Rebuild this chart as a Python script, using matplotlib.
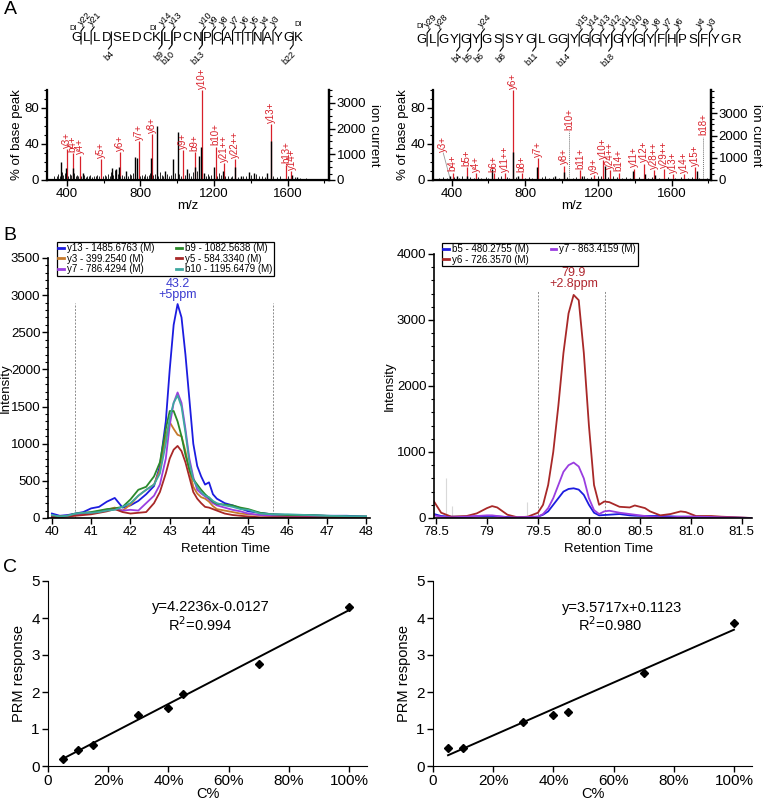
import matplotlib
matplotlib.use("Agg")
import matplotlib.pyplot as plt
from matplotlib.lines import Line2D
from matplotlib.ticker import MultipleLocator, FuncFormatter

plt.rcParams["font.family"] = ["Liberation Sans", "DejaVu Sans"]

W, H = 783, 802
RED = "#d8202a"

# ---------------- panel A data ----------------
seq_left = "GLLDSEDCKLPCNPCATTNAYGK"
y_ions_left = [22, 21, 14, 13, 10, 9, 8, 7, 6, 5, 4, 3]
b_ions_left = [4, 9, 10, 13, 22]
seq_right = "GLGYGYGSSYGLGGYGGYGYGYFHPSFYGR"
y_ions_right = [29, 28, 24, 15, 14, 13, 12, 11, 10, 9, 8, 7, 6, 4, 3]
b_ions_right = [4, 5, 6, 8, 11, 14, 18]

red_mz_l = [400, 431, 469, 587, 691, 792, 863, 1032, 1096, 1132, 1210, 1254, 1314, 1508, 1593, 1621]
red_h_l = [34, 30, 27, 23, 31, 43, 51, 33, 31, 100, 37, 18.5, 23, 62, 17, 10]
red_lab_l = ["y3+", "b4+", "y4+", "y5+", "y6+", "y7+", "y8+", "y9+", "b9+", "y10+",
             "b10+", "y21++", "y22++", "y13+", "b13+", "y14+"]

black_mz_l = [367, 396, 431, 487, 645, 669, 683, 723, 772, 781, 860, 889, 934, 978,
              1003, 1054, 1099, 1121, 1130, 1145, 1199, 1250, 1314, 1345, 1390, 1417,
              1490, 1508, 1626, 1653]
black_h_l = [20, 13, 13, 8, 13, 12, 15, 10, 26, 24, 25, 60, 10, 23,
             53, 12, 14, 27, 37, 8, 14, 10, 14, 4, 9, 8,
             8, 43, 6, 3]

noise_mz_l = [330, 345, 352, 360, 372, 380, 388, 405, 415, 422, 440, 448, 455, 462,
              478, 495, 503, 512, 520, 528, 537, 545, 556, 565, 573, 598, 607, 615,
              624, 632, 640, 652, 660, 676, 690, 700, 710, 730, 742, 750, 760, 798,
              808, 818, 826, 835, 845, 852, 870, 878, 898, 906, 915, 925, 945, 955,
              965, 990, 1012, 1020, 1040, 1062, 1075, 1085, 1110, 1155, 1165, 1175,
              1185, 1215, 1225, 1240, 1262, 1275, 1290, 1300, 1330, 1360, 1375, 1400,
              1430, 1445, 1460, 1475, 1520, 1540, 1560, 1600, 1640, 1670, 1700]
noise_h_l = [5, 4, 7, 5, 9, 6, 8, 5, 7, 6, 8, 4, 6, 5,
             4, 6, 3, 5, 4, 6, 3, 5, 4, 6, 4, 5, 6, 4,
             7, 5, 9, 6, 11, 7, 5, 6, 4, 5, 7, 6, 8, 5,
             6, 4, 7, 5, 6, 8, 6, 7, 5, 9, 6, 4, 7, 5,
             6, 8, 7, 5, 6, 8, 5, 9, 10, 5, 7, 4, 6, 5, 8, 6,
             4, 5, 3, 4, 3, 5, 4, 6, 7, 5, 4, 3, 5, 3, 4, 4, 3, 2, 2]

red_mz_r = [354, 405, 482, 533, 630, 690, 733, 782, 869, 1013, 1042, 1100, 1176, 1227,
            1263, 1310, 1396, 1451, 1505, 1560, 1609, 1667, 1727, 1773]
red_h_r = [30, 8, 14, 7.5, 7.5, 7.5, 100, 7.5, 24, 16, 54, 11, 5.5, 22,
           11, 8, 12.5, 18, 11, 12, 6.5, 6.5, 14, 48]
red_lab_r = ["y3+", "b4+", "b5+", "y4+", "b6+", "y11++", "y6+", "b8+", "y7+", "y8+",
             "b10+", "b11+", "y9+", "y10+", "y24++", "b14+", "y11+", "y12+", "y28++",
             "y29++", "y13+", "y14+", "y15+", "b18+"]

black_mz_r = [392, 427, 482, 618, 733, 760, 864, 964, 1010, 1109, 1236, 1391, 1454, 1509, 1736]
black_h_r = [4, 4, 4, 12, 31, 5, 15, 5, 9, 5, 16, 10, 7, 6, 10]

noise_mz_r = [330, 350, 372, 415, 440, 455, 500, 520, 545, 560, 585, 600, 650, 670, 700,
              715, 750, 800, 820, 840, 890, 910, 930, 950, 985, 1030, 1060, 1080, 1120,
              1140, 1160, 1200, 1215, 1250, 1280, 1300, 1330, 1350, 1370, 1420, 1470,
              1490, 1530, 1580, 1620, 1650, 1690, 1710, 1750, 1790]
noise_h_r = [2, 3, 2, 3, 2, 4, 3, 2, 3, 2, 3, 2, 3, 4, 3,
             2, 3, 2, 3, 2, 3, 4, 2, 3, 2, 3, 2, 3, 4,
             2, 3, 4, 5, 3, 4, 3, 2, 3, 2, 3, 2,
             3, 2, 3, 2, 3, 2, 3, 2, 2]

# ---------------- panel B data ----------------
rt_l = [40.0, 40.2, 40.4, 40.6, 40.8, 41.0, 41.2, 41.4, 41.6, 41.8, 42.0, 42.2, 42.4, 42.6,
        42.75, 42.9, 43.0, 43.1, 43.2, 43.3, 43.4, 43.5, 43.6, 43.7, 43.8, 43.9, 44.0,
        44.1, 44.2, 44.4, 44.6, 44.8, 45.0, 45.3, 45.6, 46.0, 46.5, 47.0, 47.5, 48.0]
y13_l = [60, 30, 40, 60, 80, 130, 150, 220, 270, 140, 170, 230, 320, 430, 700, 1300, 2000,
         2600, 2880, 2700, 2200, 1600, 1000, 700, 560, 450, 480, 320, 260, 200, 170, 130,
         90, 70, 50, 40, 40, 30, 30, 20]
y3_l = [20, 20, 30, 40, 60, 70, 90, 110, 140, 100, 180, 300, 380, 450, 650, 1100, 1290,
        1200, 1120, 1100, 900, 650, 420, 330, 280, 260, 220, 160, 120, 100, 80, 60, 50,
        40, 30, 25, 20, 20, 15, 10]
y7_l = [20, 20, 30, 40, 60, 70, 90, 110, 120, 100, 110, 100, 200, 300, 450, 800, 1250,
        1550, 1690, 1550, 1200, 800, 550, 380, 330, 290, 250, 200, 170, 140, 110, 90, 60,
        40, 30, 25, 20, 20, 15, 10]
b9_l = [30, 20, 30, 60, 70, 80, 100, 120, 130, 150, 250, 380, 420, 560, 750, 1200, 1440,
        1440, 1300, 1100, 850, 650, 520, 450, 380, 320, 270, 220, 190, 180, 170, 140, 120,
        70, 50, 40, 40, 30, 20, 20]
y5_l = [10, 10, 20, 30, 40, 50, 70, 90, 120, 80, 60, 70, 80, 200, 350, 600, 800, 920,
        970, 900, 750, 550, 350, 260, 200, 150, 140, 120, 100, 60, 40, 30, 20, 10, 10, 10,
        10, 5, 5, 5]
b10_l = [40, 20, 30, 60, 70, 70, 80, 100, 110, 150, 200, 300, 380, 450, 600, 1000, 1350,
         1550, 1650, 1500, 1150, 750, 520, 420, 350, 300, 280, 230, 200, 170, 150, 120,
         110, 60, 50, 50, 40, 30, 25, 20]
names_l = ["y13 - 1485.6763 (M)", "y3 - 399.2540 (M)", "y7 - 786.4294 (M)",
           "b9 - 1082.5638 (M)", "y5 - 584.3340 (M)", "b10 - 1195.6479 (M)"]
colors_l = ["#1c1ce0", "#c67a2c", "#9a3ee0", "#2a8a2a", "#a82828", "#3ea8a0"]

rt_r = [78.48, 78.55, 78.65, 78.8, 78.9, 79.0, 79.05, 79.1, 79.2, 79.3, 79.4, 79.5, 79.55,
        79.6, 79.65, 79.7, 79.75, 79.8, 79.85, 79.9, 79.95, 80.0, 80.05, 80.1, 80.15, 80.2,
        80.3, 80.4, 80.45, 80.55, 80.6, 80.7, 80.8, 80.9, 80.95, 81.05, 81.2, 81.3, 81.45, 81.6]
b5_r = [60, 30, 20, 20, 25, 30, 30, 25, 15, 10, 15, 20, 50, 100, 200, 300, 400, 440, 450,
        430, 350, 200, 80, 40, 45, 50, 60, 40, 35, 30, 30, 30, 25, 20, 20, 20, 15, 10, 5, 0]
y6_r = [250, 80, 20, 30, 70, 150, 180, 160, 50, 10, 20, 80, 200, 500, 1000, 1700, 2500,
        3100, 3380, 3300, 2500, 1400, 500, 200, 250, 240, 170, 160, 190, 150, 100, 40, 60,
        100, 90, 30, 30, 20, 10, 0]
y7_r = [40, 20, 10, 20, 30, 40, 40, 30, 10, 10, 15, 20, 60, 150, 300, 500, 700, 800, 840,
        780, 600, 300, 120, 60, 100, 110, 80, 60, 50, 30, 20, 10, 10, 20, 20, 20, 15, 10, 5, 0]
names_r = ["b5 - 480.2755 (M)", "y6 - 726.3570 (M)", "y7 - 863.4159 (M)"]
colors_r = ["#1c1ce0", "#a82828", "#9a3ee0"]

# ---------------- panel C data ----------------
conc_l = [5, 10, 15, 30, 40, 45, 70, 100]
resp_l = [0.18, 0.42, 0.57, 1.37, 1.58, 1.95, 2.75, 4.3]
slope_l, icpt_l = 4.2236, -0.0127
conc_r = [5, 10, 30, 40, 45, 70, 100]
resp_r = [0.48, 0.50, 1.18, 1.38, 1.45, 2.52, 3.87]
slope_r, icpt_r = 3.5717, 0.1123

fig = plt.figure(figsize=(W / 100, H / 100), dpi=100)


def px(x, y):
    return x / W, 1 - y / H


def box(x0, y0, x1, y1):
    return [x0 / W, 1 - y1 / H, (x1 - x0) / W, (y1 - y0) / H]


def fline(xs, ys, **kw):
    fx = [x / W for x in xs]
    fy = [1 - y / H for y in ys]
    fig.add_artist(Line2D(fx, fy, transform=fig.transFigure, color="k", lw=0.8, **kw))


def draw_seq(seq, x0, dx, y, y_ions, b_ions):
    n = len(seq)
    for i, aa in enumerate(seq):
        fig.text(*px(x0 + i * dx, y), aa, ha="center", va="center", fontsize=9.5)
    for k in y_ions:
        xb = x0 + (n - k - 0.5) * dx
        fline([xb, xb, xb + 3], [y + 6, y - 7, y - 11])
        fig.text(*px(xb + 2, y - 11), "y%d" % k, rotation=45, ha="left", va="bottom",
                 rotation_mode="anchor", fontsize=6.5)
    for k in b_ions:
        xb = x0 + (k - 0.5) * dx
        fline([xb, xb, xb - 3], [y - 6, y + 7, y + 11])
        fig.text(*px(xb - 2, y + 11), "b%d" % k, rotation=45, ha="right", va="top",
                 rotation_mode="anchor", fontsize=6.5)


draw_seq(seq_left, 76, 10.1, 38, y_ions_left, b_ions_left)
draw_seq(seq_right, 421.7, 10.86, 40, y_ions_right, b_ions_right)
for (x, y) in [(73, 29), (153, 29), (298, 25), (420, 26)]:
    fig.text(*px(x, y), "DI", fontsize=5.5, ha="center", va="center")


def spectrum(rect, xlim, rmax, red_mz, red_h, red_lab, blk_mz, blk_h, nz_mz, nz_h, special):
    ax = fig.add_axes(rect)
    for mz, h, lab in zip(red_mz, red_h, red_lab):
        if lab in special.get("dotted", []):
            ax.vlines(mz, 0, h, color="0.45", lw=0.7, linestyles=(0, (1, 1)))
        elif lab in special.get("leader", {}):
            tx, ty = special["leader"][lab]
            ax.plot([mz, tx], [h, ty], color="0.6", lw=0.6)
        else:
            ax.vlines(mz, 0, h, color=RED, lw=0.9)
        ax.text(mz, h + 1.5, lab, rotation=90, ha="center", va="bottom", color=RED,
                fontsize=7, clip_on=False)
    ax.vlines(nz_mz, 0, nz_h, color="0.15", lw=0.7)
    ax.vlines(blk_mz, 0, blk_h, color="k", lw=1.0)
    ax.set_xlim(*xlim)
    ax.set_ylim(0, 100)
    ax.spines["top"].set_visible(False)
    for s in ["left", "right", "bottom"]:
        ax.spines[s].set_linewidth(1.6)
    ax.set_yticks([0, 40, 80])
    ax.yaxis.set_minor_locator(MultipleLocator(10))
    ax.set_xticks([400, 800, 1200, 1600])
    ax.xaxis.set_minor_locator(MultipleLocator(200))
    ax.tick_params(labelsize=9.5, length=4, width=1, direction="out", pad=1.5)
    ax.tick_params(which="minor", length=2.5, width=0.8)
    ax.set_xlabel("m/z", fontsize=9.5, labelpad=0)
    ax.set_ylabel("% of base peak", fontsize=9.5, labelpad=1)
    ax2 = ax.twinx()
    ax2.set_ylim(0, rmax)
    ax2.set_yticks([0, 1000, 2000, 3000])
    ax2.yaxis.set_minor_locator(MultipleLocator(250))
    ax2.spines["top"].set_visible(False)
    ax2.spines["right"].set_linewidth(1.6)
    ax2.tick_params(labelsize=9.5, length=4, width=1, pad=1.5)
    ax2.tick_params(which="minor", length=2.5, width=0.8)
    ax2.set_ylabel("ion current", fontsize=9.5, rotation=270, labelpad=10)
    return ax


spectrum(box(47, 90, 329, 180), (292, 1825), 3500, red_mz_l, red_h_l, red_lab_l,
         black_mz_l, black_h_l, noise_mz_l, noise_h_l, {})
spectrum(box(433, 90, 711, 180), (298, 1814), 4050, red_mz_r, red_h_r, red_lab_r,
         black_mz_r, black_h_r, noise_mz_r, noise_h_r,
         {"dotted": ["b10+", "b18+"], "leader": {"y3+": (392, 1)}})


def chrom(rect, rt, traces, names, colors, xlim, ylim, ymajor, yminor, xticks, xfmt,
          bounds, btop, ann, ann_col, ann_xy, leg_anchor, faint, ylab_x):
    ax = fig.add_axes(rect)
    for x, h in faint:
        ax.vlines(x, 0, h, color="0.85", lw=0.8)
    ax.vlines(bounds, 0, btop, color="0.55", lw=0.7, linestyles=(0, (2, 1.5)))
    for tr, nm, c in zip(traces, names, colors):
        ax.plot(rt, tr, color=c, lw=1.3, label=nm)
    ax.set_xlim(*xlim)
    ax.set_ylim(*ylim)
    for s in ["top", "right"]:
        ax.spines[s].set_visible(False)
    ax.spines["left"].set_linewidth(1.2)
    ax.spines["bottom"].set_linewidth(1.2)
    ax.yaxis.set_major_locator(MultipleLocator(ymajor))
    ax.yaxis.set_minor_locator(MultipleLocator(yminor))
    ax.set_xticks(xticks)
    ax.xaxis.set_major_formatter(FuncFormatter(xfmt))
    ax.tick_params(axis="x", labelsize=9.5, length=4, width=1, pad=1.5)
    ax.tick_params(axis="y", labelsize=9.5, length=4, width=1, pad=1.5)
    ax.tick_params(which="minor", length=2.5, width=0.8)
    ax.set_xlabel("Retention Time", fontsize=9.5)
    ax.set_ylabel("Intensity", fontsize=9.5)
    ax.xaxis.set_label_coords(0.55, -0.095)
    ax.yaxis.set_label_coords(ylab_x, 0.5)
    ax.text(ann_xy[0], ann_xy[1], ann, color=ann_col, ha="center", va="bottom",
            fontsize=9, linespacing=0.9)
    leg = ax.legend(ncol=2, loc="upper left", bbox_to_anchor=leg_anchor, fontsize=7,
                    handlelength=0.6, handletextpad=0.3, labelspacing=0.05,
                    borderpad=0.15, columnspacing=2.2, fancybox=False, framealpha=1,
                    borderaxespad=0)
    leg.get_frame().set_edgecolor("k")
    leg.get_frame().set_linewidth(0.9)
    for hl in leg.get_lines():
        hl.set_linewidth(2)
    return ax


chrom(box(48, 258, 370, 518), rt_l, [y13_l, y3_l, y7_l, b9_l, y5_l, b10_l], names_l,
      colors_l, (39.9, 48.1), (0, 3500), 500, 100, list(range(40, 49)),
      lambda v, p: "%d" % v, [40.58, 45.62], 2900, "43.2\n+5ppm", "#3a3ad0",
      (43.2, 2920), (0.028, 1.062), [], -0.113)
chrom(box(434, 254, 752, 518), rt_r, [b5_r, y6_r, y7_r], names_r, colors_r,
      (78.48, 81.6), (0, 4000), 1000, 200, [78.5, 79, 79.5, 80, 80.5, 81, 81.5],
      lambda v, p: "%g" % v if v == 79 else "%.1f" % v, [79.5, 80.16], 3450,
      "79.9\n+2.8ppm", "#b02830", (79.85, 3450), (0.025, 1.042),
      [(78.6, 600), (78.66, 180), (79.39, 250)], -0.12)


def calib(rect, conc, resp, slope, icpt, eq_xy, r2, r2_xy):
    ax = fig.add_axes(rect)
    ax.plot(conc, resp, "D", color="k", ms=4)
    xs = [conc[0], conc[-1]]
    ax.plot(xs, [slope * x / 100 + icpt for x in xs], color="k", lw=1.4)
    ax.set_xlim(0, 106)
    ax.set_ylim(0, 5)
    for s in ["top", "right"]:
        ax.spines[s].set_visible(False)
    ax.set_xticks([0, 20, 40, 60, 80, 100])
    ax.set_xticklabels(["0", "20%", "40%", "60%", "80%", "100%"])
    ax.set_yticks(range(6))
    ax.tick_params(labelsize=11, length=4, width=1, pad=2)
    ax.set_xlabel("C%", fontsize=10.5)
    ax.xaxis.set_label_coords(0.5, -0.112)
    ax.set_ylabel("PRM response", fontsize=10.5, labelpad=4)
    ax.text(*eq_xy, "y=%.4fx%+.4f" % (slope, icpt), ha="center", va="center",
            fontsize=10.5, transform=fig.transFigure)
    ax.text(*r2_xy, "R$^2$=%s" % r2, ha="center", va="center", fontsize=10.5,
            transform=fig.transFigure)
    return ax


calib(box(48, 581, 367, 766), conc_l, resp_l, slope_l, icpt_l, px(211, 607), "0.994",
      px(200, 625))
calib(box(433, 581, 752, 766), conc_r, resp_r, slope_r, icpt_r, px(622, 608), "0.980",
      px(610, 625))

for lab, (x, y) in [("A", (10, 10)), ("B", (10, 235)), ("C", (10, 567))]:
    fig.text(*px(x, y), lab, fontsize=14, ha="center", va="center")

fig.savefig("out.png", dpi=100)
